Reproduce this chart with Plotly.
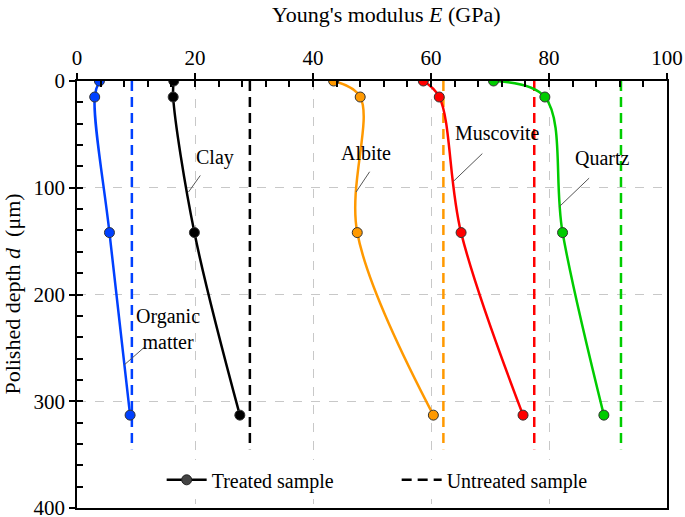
import plotly.graph_objects as go

# ---- data ----
depth = [0, 15, 142, 313]
organic = [3.8, 3.0, 5.5, 9.0]
clay = [16.4, 16.3, 19.9, 27.6]
albite = [43.5, 48.0, 47.5, 60.4]
muscovite = [58.7, 61.4, 65.1, 75.6]
quartz = [70.6, 79.3, 82.3, 89.3]

names = ["Organic matter", "Clay", "Albite", "Muscovite", "Quartz"]
treated = [organic, clay, albite, muscovite, quartz]
untreated = [9.3, 29.3, 62.1, 77.5, 92.2]
untreated_depth = [0, 345]
colors = ["#0040ff", "#000000", "#ff9900", "#ff0000", "#00cc00"]

x_ticks = [0, 20, 40, 60, 80, 100]
y_ticks = [0, 100, 200, 300, 400]

FONT = "Liberation Serif"

fig = go.Figure()

for name, vals, u, c in zip(names, treated, untreated, colors):
    fig.add_trace(go.Scatter(
        x=[u, u], y=untreated_depth, mode="lines",
        line=dict(color=c, width=2.5, dash="10px,6px"),
        showlegend=False, hoverinfo="skip"))

for name, vals, u, c in zip(names, treated, untreated, colors):
    fig.add_trace(go.Scatter(
        x=vals, y=depth, mode="lines+markers", name=name,
        line=dict(color=c, width=2.5, shape="spline", smoothing=1.0),
        marker=dict(size=10, color=c, line=dict(color="#333333", width=1)),
        showlegend=False))

# legend entries
fig.add_trace(go.Scatter(
    x=[None], y=[None], mode="lines+markers", name="Treated sample",
    line=dict(color="black", width=2.5),
    marker=dict(size=10, color="#444444", line=dict(color="#222222", width=1))))
fig.add_trace(go.Scatter(
    x=[None], y=[None], mode="lines", name="Untreated sample",
    line=dict(color="black", width=2.5, dash="10px,6px")))

# overlay axes for inner ticks
fig.add_trace(go.Scatter(x=[None], y=[None], xaxis="x2", yaxis="y2",
                         showlegend=False, hoverinfo="skip"))

# labels with leader lines: (text, x, y, x0, y0, x1, y1)
labels = [
    ("Clay", 23.4, 72, 20.9, 88.5, 18.9, 104),
    ("Organic<br>matter", 15.5, 232, 11.5, 249, 8.0, 266),
    ("Albite", 48.9, 67, 49.6, 85, 47.3, 104),
    ("Muscovite", 71.3, 49, 68.7, 68, 63.8, 94),
    ("Quartz", 89.1, 72, 86.8, 91, 81.7, 118),
]
for t, tx, ty, x0, y0, x1, y1 in labels:
    fig.add_annotation(x=tx, y=ty, text=t, showarrow=False,
                       font=dict(family=FONT, size=20, color="black"),
                       xanchor="center", yanchor="middle")
    fig.add_shape(type="line", x0=x0, y0=y0, x1=x1, y1=y1,
                  line=dict(color="#555555", width=1))

fig.add_annotation(text="Young's modulus <i>E</i> (GPa)", xref="paper", yref="paper",
                   x=0.525, y=1.155, showarrow=False, xanchor="center", yanchor="middle",
                   font=dict(family=FONT, size=22, color="black"))
fig.add_annotation(text="Polished depth <i>d</i>  (μm)", xref="paper", yref="paper",
                   x=-0.11, y=0.5, showarrow=False, textangle=-90,
                   xanchor="center", yanchor="middle",
                   font=dict(family=FONT, size=22, color="black"))

fig.update_layout(
    width=685, height=517,
    margin=dict(l=77, r=18, t=81, b=9, autoexpand=False),
    paper_bgcolor="white", plot_bgcolor="white",
    font=dict(family=FONT, size=20, color="black"),
    xaxis=dict(range=[0, 100], side="top", tickvals=x_ticks, automargin=False,
               ticks="outside", ticklen=6, tickwidth=1.5, tickcolor="black",
               ticklabeloverflow="allow",
               showline=True, linecolor="black", linewidth=1.5, mirror=True,
               showgrid=True, gridcolor="#c8c8c8", gridwidth=1, griddash="dash",
               zeroline=False, tickfont=dict(family=FONT, size=21)),
    yaxis=dict(range=[400, 0], tickvals=y_ticks, automargin=False,
               ticks="outside", ticklen=6, tickwidth=1.5, tickcolor="black",
               ticklabeloverflow="allow",
               showline=True, linecolor="black", linewidth=1.5, mirror=True,
               showgrid=True, gridcolor="#c8c8c8", gridwidth=1, griddash="dash",
               zeroline=False, tickfont=dict(family=FONT, size=21)),
    xaxis2=dict(range=[0, 100], overlaying="x", side="top", anchor="y",
                dtick=4, tick0=0, ticks="inside", ticklen=6, tickwidth=1.5,
                tickcolor="black", showticklabels=False, showgrid=False,
                showline=False, zeroline=False, automargin=False),
    yaxis2=dict(range=[400, 0], overlaying="y", side="left", anchor="x",
                dtick=20, tick0=0, ticks="inside", ticklen=6, tickwidth=1.5,
                tickcolor="black", showticklabels=False, showgrid=False,
                showline=False, zeroline=False, automargin=False),
    legend=dict(orientation="h", x=0.1435, y=0.066, xanchor="left", yanchor="middle",
                bgcolor="white", font=dict(family=FONT, size=20),
                itemwidth=40, entrywidth=180, entrywidthmode="pixels", tracegroupgap=0),
    showlegend=True,
)

fig.write_html("out.html", config={"displayModeBar": False},
               post_script="document.body.style.margin='0';document.body.style.padding='0';")
